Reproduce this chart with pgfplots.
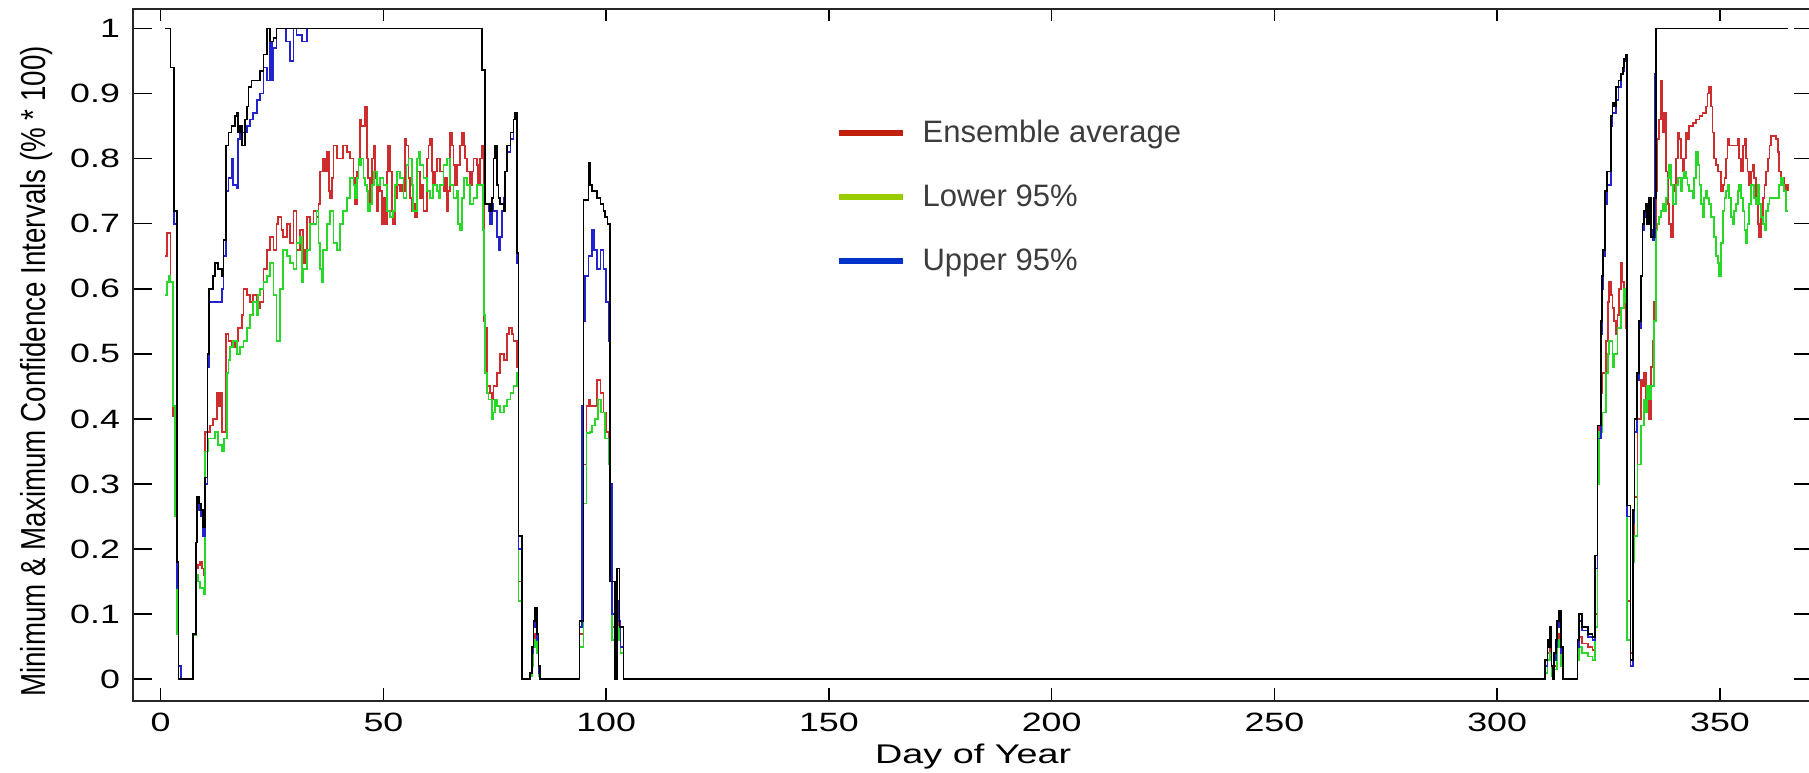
\documentclass[border=0pt]{standalone}
\usepackage{fontspec}
\setmainfont{Liberation Sans}
\usepackage{graphicx}
\usepackage{pgfplots}
\pgfplotsset{compat=1.18}

\definecolor{cred}{RGB}{205,45,45}
\definecolor{cgreen}{RGB}{40,215,40}
\definecolor{cblue}{RGB}{35,35,205}
\definecolor{lred}{RGB}{192,32,12}
\definecolor{lgreen}{RGB}{153,204,0}
\definecolor{lblue}{RGB}{0,51,204}
\definecolor{lgray}{RGB}{60,60,60}

% the original image is stretched sideways
\newcommand{\sx}[1]{\scalebox{1.35}[1]{#1}}

\begin{document}
\begin{tikzpicture}
\begin{axis}[
  scale only axis,
  width=671.9pt, height=276.7pt,
  xmin=-6.15, xmax=370.9,
  ymin=-0.033, ymax=1.03,
  xtick={0,50,100,150,200,250,300,350},
  xticklabels={\sx{0},\sx{50},\sx{100},\sx{150},\sx{200},\sx{250},\sx{300},\sx{350}},
  ytick={0,0.1,0.2,0.3,0.4,0.5,0.6,0.7,0.8,0.9,1},
  yticklabels={\sx{0},\sx{0.1},\sx{0.2},\sx{0.3},\sx{0.4},\sx{0.5},\sx{0.6},\sx{0.7},\sx{0.8},\sx{0.9},\sx{1}},
  tick align=inside,
  major tick length=7.5pt,
  xtick style={/pgfplots/major tick length=4.9pt},
  every tick/.style={black, line width=0.6pt},
  axis line style={line width=0.7pt, black!85},
  ticklabel style={font=\fontsize{10.6}{12}\selectfont},
  xticklabel style={yshift=-1.4pt},
  yticklabel style={xshift=-1.8pt},
  xlabel={\scalebox{1.4}[1]{Day of Year}},
  ylabel={\scalebox{1}[1.25]{Minimum \& Maximum Confidence Intervals (\% * 100)}},
  every axis x label/.style={at={(axis description cs:0.5,-0.0915)}, anchor=base, font=\fontsize{10.8}{12}\selectfont},
  every axis y label/.style={at={(axis description cs:-0.0525,0.476)}, rotate=90, anchor=base, font=\fontsize{11.1}{13}\selectfont},
  every axis plot/.append style={const plot, no markers, line width=0.7pt},
  legend image code/.code={\draw[#1] (0pt,0pt) -- (25.6pt,0pt);},
  legend cell align=left,
  legend style={at={(axis description cs:0.4178,0.8425)}, anchor=north west,
    draw=none, fill=none, inner sep=0pt, row sep=13.6pt, column sep=6.8pt,
    text=lgray, font=\fontsize{12.4}{14}\selectfont,
    nodes={inner sep=0pt, text height=9.5pt, text depth=2.5pt}},
]
% Ensemble average
\addplot[cred, forget plot] coordinates {
(1,0.65) (1.4,0.686) (2.2,0.61) (2.8,0.405) (3.2,0.26) (3.6,0.085) (4,0) (7.3,0.07) (7.9,0.17) (8.4,0.175) (8.8,0.18) (9.2,0.17) (9.6,0.16) (9.95,0.38) (11.1,0.39) (11.8,0.40) (12.6,0.44) (12.9,0.42) (13.3,0.44) (13.7,0.38) (14.7,0.53) (15.2,0.52) (15.9,0.51) (16.7,0.52) (17.4,0.54) (18.2,0.56) (18.6,0.60) (19.3,0.59) (20.1,0.58) (20.8,0.59) (21.6,0.56) (21.9,0.57) (22.3,0.58) (23.1,0.63) (23.8,0.66) (24.5,0.68) (25.3,0.66) (26,0.70) (26.4,0.71) (27.1,0.69) (27.5,0.68) (28.3,0.70) (29,0.67) (29.8,0.72) (30.5,0.66) (31.3,0.69) (32,0.64) (32.4,0.66) (32.8,0.71) (33.5,0.70) (34.3,0.72) (35,0.71) (35.4,0.73) (35.8,0.78) (36.5,0.80) (36.9,0.78) (37.3,0.81) (37.7,0.75) (38,0.74) (38.4,0.77) (38.8,0.82) (39.5,0.80) (40.3,0.80) (41,0.82) (41.8,0.81) (42.5,0.80) (43.3,0.77) (43.6,0.73) (44,0.78) (44.4,0.80) (44.8,0.86) (45.1,0.85) (45.9,0.88) (46.3,0.80) (46.6,0.77) (47,0.73) (47.4,0.80) (47.8,0.82) (48.1,0.77) (48.5,0.72) (48.9,0.76) (49.3,0.75) (49.6,0.70) (50,0.74) (50.4,0.70) (50.8,0.78) (51.1,0.82) (51.5,0.78) (51.9,0.72) (52.2,0.70) (52.6,0.74) (53,0.76) (53.7,0.75) (54.1,0.76) (54.5,0.75) (54.9,0.83) (55.2,0.82) (55.6,0.77) (56,0.74) (56.4,0.72) (56.7,0.73) (57.1,0.71) (57.5,0.78) (58.2,0.74) (58.6,0.76) (59,0.72) (59.7,0.80) (60.1,0.82) (60.5,0.83) (60.9,0.78) (61.2,0.76) (61.6,0.78) (62,0.80) (62.7,0.78) (63.5,0.75) (63.9,0.77) (64.2,0.72) (64.6,0.75) (65,0.84) (65.4,0.82) (65.7,0.79) (66.1,0.76) (66.5,0.79) (67.2,0.82) (67.6,0.84) (68,0.82) (68.3,0.80) (68.7,0.78) (69.5,0.76) (69.8,0.78) (70.2,0.80) (71,0.79) (71.3,0.76) (71.7,0.80) (72.1,0.82) (72.6,0.55) (72.8,0.54) (73.2,0.45) (74,0.44) (74.3,0.43) (74.7,0.45) (75.5,0.47) (76.2,0.50) (77,0.49) (77.7,0.53) (78.1,0.54) (78.8,0.53) (79.2,0.52) (79.95,0.48) (80.3,0.15) (81.1,0) (82.95,0.01) (83.3,0.03) (83.7,0.06) (84.07,0.07) (84.4,0.05) (84.8,0.01) (85.2,0) (94,0.07) (94.9,0.33) (95.6,0.42) (96.05,0.43) (96.4,0.42) (97.2,0.42) (97.9,0.46) (98.7,0.44) (99.4,0.41) (100,0.38) (100.5,0.37) (100.8,0.25) (101.3,0.08) (102,0) (102.4,0.10) (102.8,0.08) (103.2,0.05) (103.9,0) (310.8,0.02) (311.3,0.04) (311.9,0.05) (312.2,0.01) (312.4,0) (312.8,0.02) (313.5,0.06) (313.9,0.07) (314.3,0.03) (314.7,0) (318,0.04) (318.3,0.065) (319,0.055) (320.3,0.05) (321.4,0.045) (322,0.1) (322.5,0.35) (322.9,0.39) (323.3,0.44) (323.6,0.47) (324.4,0.52) (324.8,0.58) (325.1,0.61) (325.5,0.59) (325.9,0.57) (326.3,0.55) (326.6,0.53) (327,0.56) (327.4,0.60) (327.8,0.64) (328.1,0.61) (328.5,0.58) (328.9,0.54) (329.1,0.12) (329.9,0.04) (330.4,0.22) (330.8,0.28) (331.5,0.40) (332.3,0.46) (332.6,0.45) (333,0.47) (333.4,0.42) (333.7,0.44) (334.1,0.40) (334.5,0.48) (334.9,0.52) (335.2,0.58) (335.6,0.75) (336,0.83) (336.4,0.86) (336.7,0.92) (337.1,0.84) (337.5,0.87) (337.9,0.78) (338.3,0.73) (338.6,0.70) (339,0.68) (339.4,0.75) (339.7,0.76) (340.1,0.80) (340.5,0.84) (340.9,0.83) (341.2,0.80) (341.6,0.78) (342,0.80) (342.4,0.84) (342.7,0.83) (343.1,0.85) (344,0.855) (344.6,0.86) (345.4,0.865) (346.1,0.87) (346.8,0.88) (347.2,0.90) (347.6,0.91) (348,0.88) (348.3,0.84) (348.7,0.80) (349.1,0.79) (349.5,0.78) (350.2,0.75) (350.6,0.76) (351,0.77) (351.3,0.80) (351.7,0.83) (352.1,0.82) (353.2,0.82) (354,0.83) (354.3,0.80) (354.7,0.78) (355.1,0.82) (355.5,0.83) (355.8,0.80) (356.2,0.78) (356.6,0.76) (357,0.78) (357.3,0.79) (357.7,0.77) (358.1,0.74) (358.5,0.70) (358.8,0.68) (359.2,0.71) (359.6,0.74) (360,0.76) (360.3,0.78) (360.7,0.80) (361.1,0.82) (361.5,0.835) (362.6,0.83) (363,0.81) (363.3,0.78) (363.7,0.77) (364.1,0.77) (364.4,0.75) (364.8,0.76) (365.2,0.75)
};
% Lower 95%
\addplot[cgreen, forget plot] coordinates {
(1,0.59) (1.4,0.61) (1.8,0.62) (2.2,0.61) (2.8,0.42) (3.2,0.25) (3.6,0.07) (4,0) (7.3,0.068) (7.9,0.16) (8.4,0.15) (8.8,0.14) (9.6,0.13) (9.95,0.35) (10.7,0.37) (12.2,0.38) (12.9,0.36) (13.7,0.35) (14.2,0.37) (14.8,0.47) (15.2,0.49) (15.6,0.51) (16.3,0.52) (17.1,0.50) (17.8,0.51) (18.6,0.52) (19.3,0.54) (20.1,0.56) (20.8,0.58) (21.6,0.56) (21.9,0.59) (22.3,0.60) (23.1,0.61) (23.8,0.62) (24.5,0.64) (25.3,0.59) (26,0.52) (26.8,0.60) (27.5,0.66) (28.3,0.65) (29,0.64) (29.8,0.63) (30.5,0.67) (31.3,0.68) (31.7,0.61) (32,0.63) (32.8,0.66) (33.5,0.70) (35,0.72) (35.4,0.67) (35.8,0.63) (36.2,0.61) (36.5,0.66) (37.3,0.70) (38,0.72) (38.8,0.67) (39.5,0.66) (40.3,0.70) (41,0.72) (41.8,0.74) (42.5,0.77) (43.3,0.76) (43.6,0.74) (44,0.77) (44.4,0.80) (44.8,0.79) (45.1,0.80) (45.5,0.77) (45.9,0.76) (46.3,0.75) (46.6,0.72) (47,0.73) (47.4,0.76) (47.8,0.78) (48.5,0.76) (49.3,0.77) (50,0.76) (50.8,0.72) (51.5,0.71) (52.2,0.72) (52.6,0.76) (53,0.78) (53.7,0.77) (54.5,0.74) (55.2,0.79) (55.6,0.80) (56.4,0.76) (56.7,0.72) (57.5,0.80) (57.9,0.81) (58.2,0.79) (59,0.77) (59.7,0.75) (60.5,0.74) (61.2,0.76) (62,0.75) (62.4,0.74) (62.7,0.76) (63.5,0.79) (64.2,0.80) (65,0.76) (65.7,0.74) (66.5,0.75) (66.8,0.70) (67.2,0.69) (67.6,0.74) (68,0.77) (68.7,0.76) (69.5,0.73) (70.2,0.74) (71,0.76) (72.1,0.76) (72.4,0.69) (72.6,0.56) (72.8,0.47) (73.2,0.44) (73.6,0.43) (74.3,0.40) (74.7,0.41) (75.1,0.43) (75.5,0.42) (76.2,0.41) (77,0.42) (77.7,0.43) (78.5,0.44) (79.2,0.45) (79.95,0.47) (80.3,0.12) (81.1,0) (82.95,0.005) (83.3,0.02) (83.7,0.05) (84.07,0.06) (84.4,0.04) (84.8,0.005) (85.2,0) (94,0.05) (94.9,0.27) (95.6,0.378) (96.4,0.38) (96.8,0.39) (97.5,0.40) (98.2,0.43) (98.9,0.41) (99.7,0.37) (100.5,0.33) (100.8,0.22) (101.3,0.06) (102,0) (102.4,0.08) (102.8,0.06) (103.2,0.04) (103.9,0) (310.8,0.01) (311.3,0.03) (311.9,0.04) (312.2,0.005) (312.4,0) (312.8,0.015) (313.5,0.05) (313.9,0.06) (314.3,0.02) (314.7,0) (318,0.03) (318.3,0.05) (319,0.04) (320.3,0.035) (321.4,0.03) (322,0.08) (322.5,0.30) (322.9,0.38) (323.6,0.41) (324.4,0.47) (324.8,0.50) (325.1,0.52) (325.9,0.48) (326.3,0.50) (327,0.54) (327.8,0.57) (328.5,0.60) (328.9,0.58) (329.1,0.06) (329.9,0.03) (330.4,0.18) (330.8,0.22) (331.5,0.33) (332.3,0.39) (333,0.43) (333.4,0.41) (333.7,0.45) (334.1,0.43) (334.5,0.45) (335.2,0.55) (335.6,0.69) (336,0.70) (336.4,0.71) (336.7,0.72) (337.1,0.73) (337.5,0.72) (337.9,0.74) (338.2,0.77) (338.6,0.79) (339,0.76) (339.4,0.73) (340.1,0.76) (340.5,0.77) (341.2,0.75) (341.6,0.77) (342,0.78) (342.4,0.77) (342.7,0.76) (343.1,0.75) (343.9,0.74) (344.2,0.77) (344.6,0.81) (345,0.79) (345.4,0.76) (345.7,0.73) (346.1,0.71) (346.5,0.74) (346.9,0.75) (347.2,0.74) (347.6,0.73) (348,0.71) (348.7,0.68) (349.1,0.65) (349.5,0.64) (349.8,0.62) (350.2,0.67) (350.6,0.72) (351,0.74) (351.3,0.75) (351.7,0.76) (352.1,0.74) (352.5,0.71) (352.8,0.70) (353.2,0.72) (353.6,0.73) (354,0.75) (354.3,0.76) (354.7,0.74) (355.1,0.72) (355.5,0.69) (355.8,0.67) (356.2,0.70) (356.6,0.73) (357,0.76) (357.7,0.74) (358.1,0.73) (358.5,0.76) (358.8,0.73) (359.2,0.71) (359.6,0.70) (360,0.69) (360.3,0.72) (360.7,0.73) (361.1,0.74) (363.3,0.76) (363.7,0.77) (364.1,0.76) (364.4,0.75) (364.8,0.72) (365.2,0.72)
};
% Upper 95%
\addplot[cblue, forget plot] coordinates {
(1,1.0) (2.2,0.94) (3,0.70) (3.7,0.14) (4,0.02) (4.5,0) (7.3,0.07) (7.9,0.21) (8.1,0.27) (8.6,0.26) (9.1,0.25) (9.5,0.22) (9.95,0.30) (10.5,0.48) (10.9,0.58) (12.9,0.58) (13.7,0.60) (14.1,0.65) (14.7,0.75) (15.2,0.77) (15.9,0.80) (16.3,0.76) (17.1,0.755) (17.4,0.83) (17.8,0.84) (18.6,0.84) (19.3,0.85) (20.1,0.86) (20.8,0.87) (21.6,0.89) (22.3,0.90) (23.1,0.94) (23.8,0.92) (24.5,0.98) (24.9,0.92) (25.3,0.97) (26,1.0) (28.2,0.98) (29,0.95) (29.8,1.0) (30.5,0.99) (31.7,0.98) (32.8,1.0) (72.1,0.936) (72.8,0.73) (73.6,0.72) (73.96,0.70) (74.3,0.73) (74.7,0.72) (75.5,0.68) (75.8,0.66) (76.2,0.68) (76.6,0.72) (76.95,0.74) (77.3,0.78) (77.7,0.81) (78.5,0.83) (79.2,0.86) (79.95,0.64) (80.3,0.20) (81.1,0) (82.95,0.01) (83.3,0.04) (83.7,0.08) (84.07,0.09) (84.4,0.06) (84.8,0.01) (85.2,0) (94,0.08) (94.5,0.42) (94.9,0.55) (95.3,0.62) (96.05,0.65) (96.8,0.69) (97.2,0.66) (97.9,0.63) (98.7,0.66) (99.4,0.63) (100,0.58) (100.5,0.52) (100.8,0.30) (101.3,0.10) (102,0) (102.4,0.12) (102.8,0.09) (103.2,0.05) (103.9,0) (310.8,0.02) (311.3,0.05) (311.9,0.07) (312.2,0.02) (312.4,0) (312.8,0.03) (313.2,0.05) (313.5,0.08) (313.9,0.09) (314.3,0.04) (314.7,0) (318,0.05) (318.3,0.09) (319,0.075) (320.3,0.065) (321.4,0.06) (322,0.17) (322.5,0.37) (323.3,0.53) (323.6,0.60) (323.8,0.65) (324.2,0.73) (324.6,0.76) (325.5,0.85) (325.9,0.87) (326.6,0.89) (327.2,0.91) (327.8,0.93) (328.2,0.935) (328.5,0.95) (328.9,0.955) (329.1,0.25) (329.9,0.02) (330.4,0.24) (330.8,0.38) (331.4,0.46) (331.9,0.54) (332.3,0.62) (332.6,0.69) (333,0.71) (333.4,0.72) (333.7,0.70) (334.5,0.69) (334.9,0.675) (335.2,0.68) (335.5,0.93) (335.7,1.0) (365.2,1.0)
};
% maximum
\addplot[black, forget plot] coordinates {
(1,1.0) (2.2,0.94) (3,0.72) (3.7,0.18) (4,0) (7.3,0.07) (7.9,0.21) (8.1,0.28) (8.6,0.27) (9.1,0.26) (9.5,0.233) (9.95,0.31) (10.5,0.5) (10.9,0.60) (11.8,0.62) (12.2,0.64) (12.9,0.63) (13.7,0.62) (14.1,0.675) (14.7,0.82) (15.2,0.84) (15.9,0.85) (16.7,0.865) (17.1,0.87) (17.4,0.84) (17.8,0.85) (18.2,0.82) (18.9,0.86) (19.3,0.88) (19.7,0.91) (20.4,0.92) (22.3,0.935) (23.1,0.96) (23.8,1.0) (24.5,0.98) (25.3,0.985) (26,1.0) (72.1,0.936) (72.8,0.73) (73.96,0.72) (74.3,0.74) (74.7,0.80) (75.1,0.82) (75.5,0.76) (75.8,0.74) (76.2,0.73) (76.95,0.72) (77.3,0.78) (77.7,0.82) (78.5,0.84) (79.2,0.86) (79.6,0.87) (79.95,0.655) (80.3,0.22) (81.1,0) (82.95,0.01) (83.3,0.05) (83.7,0.09) (84.07,0.11) (84.4,0.07) (84.8,0.02) (85.2,0) (94,0.09) (94.9,0.736) (96.05,0.794) (96.4,0.76) (96.8,0.75) (97.9,0.74) (98.7,0.73) (99.4,0.72) (99.8,0.71) (100.3,0.70) (100.8,0.15) (102,0) (102.4,0.17) (103,0.08) (103.9,0) (310.8,0.03) (311.3,0.06) (311.7,0.05) (311.9,0.08) (312.2,0.02) (312.4,0) (312.8,0.04) (313.2,0.06) (313.5,0.09) (313.9,0.105) (314.3,0.05) (314.7,0) (318,0.06) (318.3,0.10) (319,0.08) (320.3,0.07) (321.4,0.065) (322,0.19) (322.5,0.39) (323.3,0.55) (323.6,0.62) (323.8,0.66) (324.2,0.75) (324.6,0.78) (325.5,0.865) (325.9,0.885) (326.3,0.88) (326.6,0.91) (327.2,0.92) (327.8,0.93) (328.2,0.94) (328.5,0.953) (328.9,0.96) (329.1,0.267) (329.9,0.03) (330.4,0.26) (330.8,0.40) (331.4,0.47) (331.9,0.55) (332.3,0.62) (332.6,0.70) (333,0.72) (333.4,0.73) (333.7,0.70) (334.1,0.74) (334.5,0.68) (334.9,0.68) (335.2,0.74) (335.7,1.0) (365.2,1.0)
};
\addlegendimage{lred, line width=2.4pt}
\addlegendentry{Ensemble average}
\addlegendimage{lgreen, line width=2.4pt}
\addlegendentry{Lower 95\%}
\addlegendimage{lblue, line width=2.4pt}
\addlegendentry{Upper 95\%}
\coordinate (SW) at (rel axis cs:0,0);
\end{axis}
\pgfresetboundingbox
\path (SW) ++(-53.32pt,-28.92pt) rectangle ++(723.6pt,309.2pt);
\end{tikzpicture}
\end{document}
